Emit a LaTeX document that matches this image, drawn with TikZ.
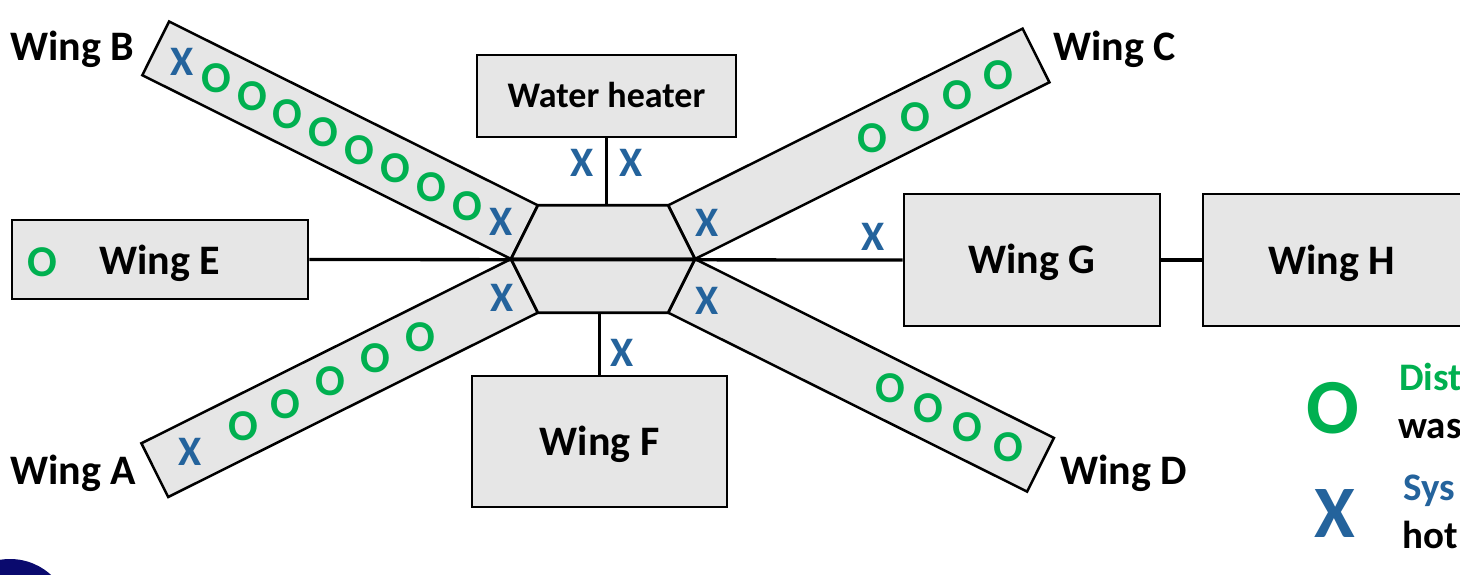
\documentclass[tikz,border=0pt]{standalone}
\usepackage{fontspec}
\setmainfont{Carlito}
\usetikzlibrary{calc}
\definecolor{xblue}{RGB}{36,99,156}
\definecolor{ogreen}{RGB}{0,176,80}
\definecolor{boxgray}{RGB}{230,230,230}
\definecolor{navyc}{RGB}{10,10,110}
\newcommand\setfs[1]{\fontsize{#1}{#1}\selectfont}
\begin{document}
\begin{tikzpicture}[x=1pt,y=-1pt,
  box/.style={draw=black, fill=boxgray, line width=2.8pt, inner sep=0pt,
    font=\bfseries\setfs{42}, text height=27pt, text depth=0pt},
  whbox/.style={box, font=\bfseries\setfs{36}, text height=23pt},
  strip/.style={draw=black, fill=boxgray, line width=2.5pt, line join=miter},
  hubpart/.style={draw=black, fill=boxgray, line width=2.8pt, line join=miter},
  conn/.style={line width=3.3pt},
  xm/.style={text=xblue, font=\bfseries\setfs{42}, inner sep=0pt, text height=27pt, text depth=0pt},
  om/.style={text=ogreen, font=\bfseries\setfs{44}, inner sep=0pt, text height=28pt, text depth=0pt},
  lbl/.style={font=\bfseries\setfs{42}, inner sep=0pt, anchor=base west},
  leg/.style={font=\bfseries\setfs{39}, inner sep=0pt, anchor=base west}
]
\useasboundingbox (0,0) rectangle (1460,574);
\clip (0,0) rectangle (1460,574);
\fill[white] (0,0) rectangle (1460,574);

% hub coordinates
\coordinate (L) at (511,259);
\coordinate (R) at (695,259);
\coordinate (TL) at ($(L)+(26.8,-53.7)$);
\coordinate (BL) at ($(L)+(26.8,53.7)$);
\coordinate (TR) at ($(R)+(-26.8,-53.7)$);
\coordinate (BR) at ($(R)+(-26.8,53.7)$);

% strips
\draw[strip] (L) -- (TL) -- ++(-368.7,-183.8) -- ($(L)+(-368.7,-183.8)$) -- cycle; % B
\draw[strip] (L) -- (BL) -- ++(-369.6,184.3) -- ($(L)+(-369.6,184.3)$) -- cycle;   % A
\draw[strip] (R) -- (TR) -- ++(354.4,-176.7) -- ($(R)+(354.4,-176.7)$) -- cycle;   % C
\draw[strip] (R) -- (BR) -- ++(358.9,178.9) -- ($(R)+(358.9,178.9)$) -- cycle;     % D

% hub
\draw[hubpart] (L) -- (TL) -- (TR) -- (R) -- cycle;
\draw[hubpart] (L) -- (BL) -- (BR) -- (R) -- cycle;

% boxes
\node[whbox, minimum width=259pt, minimum height=82pt] (wh) at (606.5,96) {Water heater};
\node[box, minimum width=296pt, minimum height=79pt] (wingE) at (160,259.5) {};
\node[box, draw=none, fill=none] (wingEt) at (160,261) {Wing E};
\node[box, minimum width=255pt, minimum height=131pt] (wingF) at (599.5,441.5) {Wing F};
\node[box, minimum width=256pt, minimum height=132pt] (wingG) at (1032,260) {Wing G};
\node[box, minimum width=262pt, minimum height=132pt] (wingH) at (1334,260) {};
\node[box, draw=none, fill=none] (wingHt) at (1332,261) {Wing H};

% connectors
\draw[conn] (wingE.east) -- (wingG.west);
\draw[conn] (wingG.east) -- (wingH.west);
\coordinate (whfoot) at (wh.south |- TL);
\draw[conn] (wh.south) -- (whfoot);
\coordinate (ffoot) at (wingF.north |- BL);
\draw[conn] (wingF.north) -- (ffoot);

% corner labels
\node[lbl] (lB) at (10,60) {Wing B};
\node[lbl] (lA) at (10,484) {Wing A};
\node[lbl] (lC) at (1053,60) {Wing C};
\node[lbl] (lD) at (1060,484) {Wing D};

% markers: strip B
\node[xm] (bx1) at (182,62) {X};
\foreach \px/\py [count=\i] in {216/78,252/96,287/114,323/132,359/150,395/168,431/187,467/206}
  \node[om] (bo\i) at (\px,\py) {O};
\node[xm] (bx2) at (501,222) {X};
% strip A
\node[xm] (ax1) at (190,452) {X};
\foreach \px/\py [count=\i] in {243/426,285/404,330/381,375/358,420/337}
  \node[om] (ao\i) at (\px,\py) {O};
\node[xm] (ax2) at (502,298) {X};
% strip C
\node[xm] (cx1) at (707,223) {X};
\foreach \px/\py [count=\i] in {872/138,915/117,957/95,998/75}
  \node[om] (co\i) at (\px,\py) {O};
% strip D
\node[xm] (dx1) at (707,301) {X};
\foreach \px/\py [count=\i] in {890/388,928/408,967/427,1008/447}
  \node[om] (do\i) at (\px,\py) {O};
% others
\node[xm] (whx1) at (582,163) {X};
\node[xm] (whx2) at (631,163) {X};
\node[xm] (gx) at (873,237) {X};
\node[xm] (fx) at (622,353) {X};
\node[om] (eo) at (42,262) {O};

% legend
\node[om, font=\bfseries\setfs{78}, text height=50pt] (lo) at (1333,408) {O};
\node[xm, font=\bfseries\setfs{74}, text height=47pt] (lx) at (1335,514) {X};
\node[leg, text=ogreen] (t1) at (1399,390) {Dist};
\node[leg] (t2) at (1398,438) {was};
\node[leg, text=xblue] (t3) at (1403,500) {Sys};
\node[leg] (t4) at (1402,548) {hot};

% decorative circle
\fill[navyc] (10,620) circle (61pt);
\end{tikzpicture}
\end{document}
